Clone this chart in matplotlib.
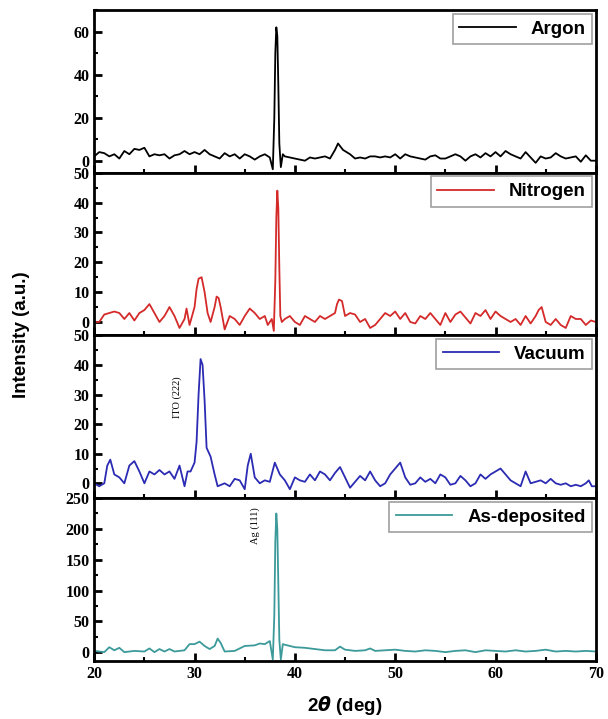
import matplotlib.pyplot as plt
from matplotlib.ticker import MultipleLocator

# 2theta positions (deg) and intensities
ar_x = [20, 20.5, 21, 21.5, 22, 22.5, 23, 23.5, 24, 24.5, 25, 25.5, 26, 26.5, 27, 27.5, 28, 28.5,
        29, 29.5, 30, 30.5, 31, 31.5, 32, 32.5, 33, 33.5, 34, 34.5, 35, 35.5, 36, 36.5, 37, 37.5,
        37.8, 37.95, 38.05, 38.15, 38.25, 38.35, 38.45, 38.6, 38.8, 39, 39.5, 40, 40.5, 41, 41.5,
        42, 42.5, 43, 43.5, 44, 44.3, 44.8, 45.5, 46, 46.5, 47, 47.5, 48, 48.5, 49, 49.5, 50,
        50.5, 51, 51.5, 52, 52.5, 53, 53.5, 54, 54.5, 55, 55.5, 56, 56.5, 57, 57.5, 58, 58.5, 59,
        59.5, 60, 60.5, 61, 61.5, 62, 62.5, 63, 63.5, 64, 64.5, 65, 65.5, 66, 66.5, 67, 67.5, 68,
        68.5, 69, 69.5, 70]
ar_y = [2, 4, 3.5, 2, 3, 1, 4.5, 3, 5.5, 5, 6, 2, 3, 2.5, 3, 1, 2.5, 3, 4.5, 3, 4, 3, 5, 3, 2,
        1, 3.5, 2, 3, 1, 3, 2, 0.5, 2, 3, 1.5, -4, 20, 50, 62, 58, 35, 8, -3, 3, 2, 1.5, 1, 0.5,
        0, 1.5, 1, 1.5, 2, 1, 5, 8, 5, 3, 1, 1.5, 1, 2, 2, 1.5, 2, 1.5, 3, 1, 3, 2, 1.5, 1, 0.5,
        2, 2.5, 1, 1, 2, 3, 2, 0, 2, 3, 1.5, 3.5, 2, 4, 2, 4.5, 3, 2, 1, 4, 1.5, -1, 2, 1, 1.5,
        3.5, 2, 1, 1.5, 2, -0.5, 2.5, 0, 0]

n2_x = [20, 20.5, 21, 21.5, 22, 22.5, 23, 23.5, 24, 24.5, 25, 25.5, 26, 26.5, 27, 27.5, 28, 28.5,
        29, 29.2, 29.5, 30, 30.2, 30.4, 30.7, 31, 31.3, 31.6, 32, 32.2, 32.4, 32.6, 33, 33.5, 34,
        34.5, 35, 35.5, 36, 36.5, 37, 37.3, 37.7, 37.9, 38.05, 38.15, 38.25, 38.35, 38.45, 38.55,
        38.7, 39, 39.5, 40, 40.5, 41, 41.5, 42, 42.5, 43, 43.5, 44, 44.2, 44.4, 44.7, 45, 45.5,
        46, 46.5, 47, 47.5, 48, 48.5, 49, 49.5, 50, 50.5, 51, 51.5, 52, 52.5, 53, 53.5, 54, 54.5,
        55, 55.5, 56, 56.5, 57, 57.5, 58, 58.5, 59, 59.5, 60, 60.5, 61, 61.5, 62, 62.5, 63, 63.5,
        64, 64.3, 64.6, 65, 65.5, 66, 66.5, 67, 67.5, 68, 68.5, 69, 69.5, 70]
n2_y = [0, 0, 2.5, 3, 3.5, 3, 1, 3, 0.5, 3, 4, 6, 3, 0, 2, 5, 2, -2, 1, 4.5, -1, 5, 11, 14.5,
        15, 10, 3, 0, 5, 8.5, 8, 5, -2.5, 2, 1, -1, 2, 4.5, 3, 1, 2, -1, 1, -3, 14, 35, 44, 38,
        18, 2, 0, 1, 2, 0, -1, 2, 1, 0, 2, 1, 2, 3, 6, 7.5, 7, 2, 3, 2.5, 0, 1, -2, -1, 1, 3, 2,
        3.5, 1, 3, 0, -0.5, 2, 1, 3, 1, -1, 3, 0, 2.5, 3.5, 1.5, -0.5, 3, 2, 4, 1, 3.5, 2, 1, 0,
        1, -1, 2, -0.5, 2, 4, 5, 0, -1, 1, -1, -2, 2, 1, 1, -1, 0.5, 0]

vac_x = [20, 20.5, 21, 21.3, 21.6, 22, 22.5, 23, 23.5, 24, 24.5, 25, 25.5, 26, 26.5, 27, 27.5,
         28, 28.5, 29, 29.3, 29.6, 30, 30.2, 30.4, 30.6, 30.8, 31.0, 31.2, 31.6, 32, 32.3, 33,
         33.5, 34, 34.5, 35, 35.3, 35.6, 36, 36.5, 37, 37.5, 38, 38.5, 39, 39.5, 40, 40.5, 41,
         41.5, 42, 42.5, 43, 43.5, 44, 44.5, 45, 45.5, 46, 46.5, 47, 47.5, 48, 48.5, 49, 49.5, 50,
         50.5, 51, 51.5, 52, 52.5, 53, 53.5, 54, 54.5, 55, 55.5, 56, 56.5, 57, 57.5, 58, 58.5, 59,
         59.5, 60, 60.5, 61, 61.5, 62, 62.5, 63, 63.5, 64, 64.5, 65, 65.5, 66, 66.5, 67, 67.5, 68,
         68.5, 69, 69.3, 69.6, 70]
vac_y = [0, -1, 0, 6, 8, 3, 2, 0, 6, 7.5, 4, 0, 4, 3, 4.5, 3, 4, 1.5, 6, -1, 4, 4, 7, 14, 30,
         42, 40, 28, 12, 9, 3, -1, 0, -1, 1.5, 1, -2, 6, 10, 2, 0, 1, 0.5, 7, 3, 1, -2, 2, 1, 0.5,
         3, 1, 4, 3, 1, 3.5, 5.5, 2, -1.5, 0.5, 2.5, 1, 4, 1, -1, 0, 3, 5, 7, 2, -0.5, 0, 2, 0.5,
         1.5, 0, 3, 2, -0.5, 0, 2.5, 1, -1, 0, 3, 1.5, 3, 4, 5, 3, 1, 0, -1, 4, 0, 0.5, 1, 0, 1.5,
         0, -0.5, 0, -1, -0.5, -1, 0, 1, -1, -1]

asd_x = [20, 21, 21.5, 22, 22.5, 23, 24, 25, 25.5, 26, 26.5, 27, 27.5, 28, 29, 29.5, 30, 30.5,
         31, 31.5, 32, 32.3, 32.6, 33, 34, 35, 36, 36.5, 37, 37.5, 37.8, 37.95, 38.05, 38.15,
         38.25, 38.35, 38.45, 38.6, 38.8, 39, 39.5, 40, 41, 42, 43, 44, 44.5, 45, 46, 47, 47.5,
         48, 49, 50, 51, 52, 53, 54, 55, 56, 57, 58, 59, 60, 61, 62, 63, 64, 65, 66, 67, 68, 69, 70]
asd_y = [2, 0, 8, 3, 7, 0, 2, 1, 6, 0, 5, 1, 5, 1, 3, 13, 13, 17, 10, 5, 10, 22, 15, 1, 2, 10,
         11, 14, 13, 18, -12, 60, 180, 225, 200, 110, 20, -12, 13, 12, 10, 8, 7, 5, 3, 3, 9, 4,
         2, 3, 6, 2, 3, 4, 2, 1, 3, 2, 0, 2, 3, 0, 3, 2, 1, 3, 1, 2, 4, 1, 2, 1, 2, 1]

series = [
    (ar_x, ar_y, "Argon", "black", (-5.6, 70), 20, 10),
    (n2_x, n2_y, "Nitrogen", "#d42a2a", (-4.5, 50), 10, 5),
    (vac_x, vac_y, "Vacuum", "#2b2bb3", (-5, 50), 10, 5),
    (asd_x, asd_y, "As-deposited", "#3c9a9a", (-14, 250), 50, 25),
]

plt.rcParams["font.family"] = "Liberation Serif"
plt.rcParams["font.weight"] = "bold"

fig, axes = plt.subplots(4, 1, figsize=(6.08, 7.19), dpi=100, sharex=True,
                         gridspec_kw={"hspace": 0})
fig.subplots_adjust(left=0.155, right=0.98, top=0.986, bottom=0.081)

for ax, (x, y, name, col, lim, major, minor) in zip(axes, series):
    ax.plot(x, y, color=col, lw=1.3, label=name)
    ax.set_ylim(*lim)
    ax.set_xlim(20, 70)
    ax.yaxis.set_major_locator(MultipleLocator(major))
    ax.yaxis.set_minor_locator(MultipleLocator(minor))
    ax.xaxis.set_major_locator(MultipleLocator(10))
    ax.xaxis.set_minor_locator(MultipleLocator(5))
    ax.tick_params(which="major", direction="in", length=6, width=2, labelsize=11.5)
    ax.tick_params(which="minor", direction="in", length=3, width=1.5)
    for s in ax.spines.values():
        s.set_linewidth(2)
    leg = ax.legend(loc="upper right", fancybox=False, borderaxespad=0.2, handlelength=3.0,
                    borderpad=0.35,
                    prop={"family": "Liberation Sans", "weight": "bold", "size": 13.5})
    leg.get_frame().set_edgecolor("#888888")
    leg.get_frame().set_linewidth(1.2)

axes[2].text(28.3, 29, "ITO (222)", rotation=90, ha="center", va="center",
             fontsize=7.5, fontweight="normal")
axes[3].text(36.0, 205, "Ag (111)", rotation=90, ha="center", va="center",
             fontsize=7.5, fontweight="normal")

axes[3].set_xlabel(r"2$\theta$ (deg)", family="Liberation Sans", fontweight="bold",
                   fontsize=13.5, labelpad=9)
fig.text(0.035, 0.535, "Intensity (a.u.)", rotation=90, ha="center", va="center",
         family="Liberation Sans", fontweight="bold", fontsize=13.5)

fig.savefig("out.png", dpi=100)
